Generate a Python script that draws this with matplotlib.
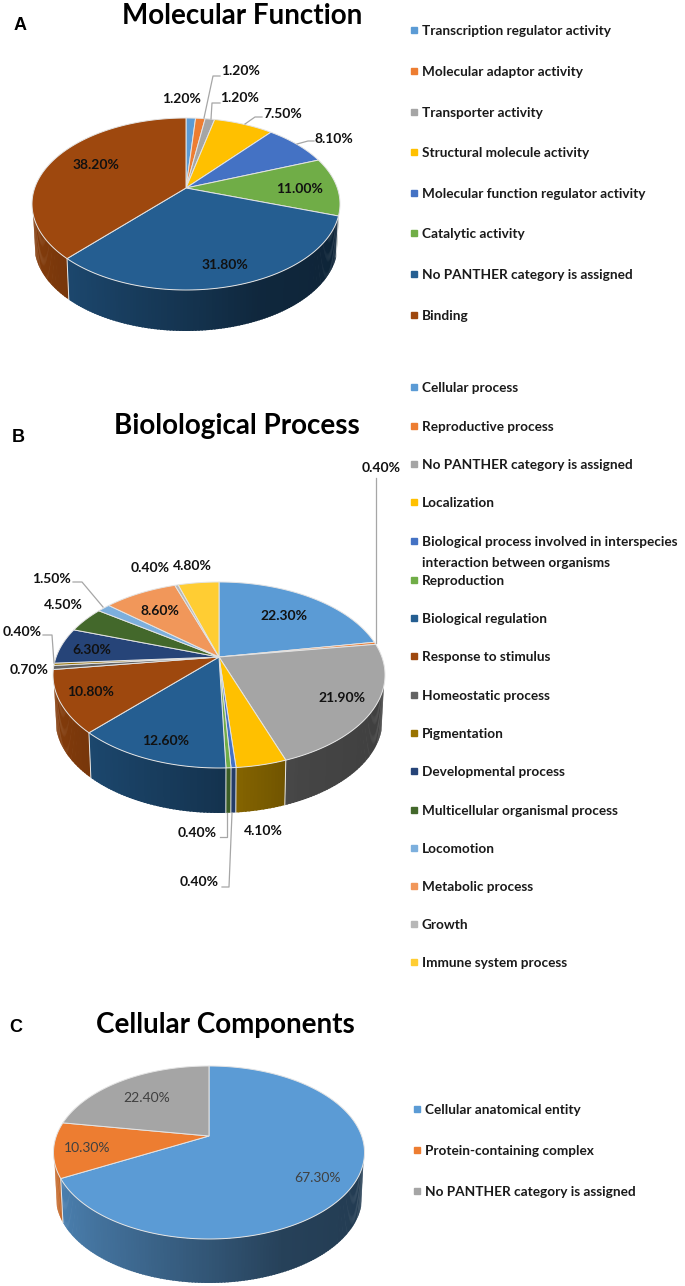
import numpy as np
import matplotlib
matplotlib.use("Agg")
import matplotlib.pyplot as plt
from matplotlib.colors import to_rgb

plt.rcParams['font.family'] = ['Lato', 'DejaVu Sans']

# panel A
mf_names = ["Transcription regulator activity", "Molecular adaptor activity", "Transporter activity",
            "Structural molecule activity", "Molecular function regulator activity", "Catalytic activity",
            "No PANTHER category is assigned", "Binding"]
mf_values = [1.2, 1.2, 1.2, 7.5, 8.1, 11.0, 31.8, 38.2]
mf_colors = ["#5b9bd5", "#ed7d31", "#a5a5a5", "#ffc000", "#4472c4", "#70ad47", "#255e91", "#9e480e"]

# panel B
bp_names = ["Cellular process", "Reproductive process", "No PANTHER category is assigned", "Localization",
            "Biological process involved in interspecies\ninteraction between organisms", "Reproduction",
            "Biological regulation", "Response to stimulus", "Homeostatic process", "Pigmentation",
            "Developmental process", "Multicellular organismal process", "Locomotion", "Metabolic process",
            "Growth", "Immune system process"]
bp_values = [22.3, 0.4, 21.9, 4.1, 0.4, 0.4, 12.6, 10.8, 0.7, 0.4, 6.3, 4.5, 1.5, 8.6, 0.4, 4.8]
bp_colors = ["#5b9bd5", "#ed7d31", "#a5a5a5", "#ffc000", "#4472c4", "#70ad47", "#255e91", "#9e480e",
             "#636363", "#997300", "#264478", "#43682b", "#7cafdd", "#f1975a", "#b7b7b7", "#ffcd33"]

# panel C
cc_names = ["Cellular anatomical entity", "Protein-containing complex", "No PANTHER category is assigned"]
cc_values = [67.3, 10.3, 22.4]
cc_colors = ["#5b9bd5", "#ed7d31", "#a5a5a5"]

# legend rows, pixel y
mf_legend_y = [30, 71, 112, 152, 193, 233, 274, 315]
bp_legend_y = [387, 426, 464, 502, 541, 580, 618, 656, 695, 733, 771, 810, 848, 886, 924, 962]
cc_legend_y = [1109, 1150, 1191]

# label positions (same order as the values)
mf_label_xy = [(182, 99), (241, 71), (240, 98), (283, 114), (334, 139), (300, 189), (225, 265), (96, 165)]
bp_label_xy = [(284, 616), (381, 468), (342, 698), (263, 831), (197, 833), (199, 882), (166, 741), (91, 692),
               (29, 670), (22, 632), (92, 650), (63, 605), (51, 579), (160, 611), (150, 568), (192, 566)]
cc_label_xy = [(318, 1178), (87, 1148), (147, 1098)]

mf_leaders = [[(204, 118), (213, 76), (220, 76)], [(211, 119), (212, 103), (220, 103)],
              [(245, 124), (255, 117), (262, 117)], [(297, 144), (308, 141), (314, 141)]]
bp_leaders = [[(375.7, 478), (375.7, 643)], [(220, 837), (227, 837), (227, 813)],
              [(222, 887), (229, 887), (232, 813)], [(43, 635), (52, 635), (54, 663)],
              [(73, 582), (82, 582), (103, 607)]]


def project(t, cx, cy, a, b, k, scale=1.0, drop=0.0):
    # t is clockwise from the top, simple perspective on the disc
    x = np.sin(t)
    y = np.cos(t)
    d = 1 + k * y
    return cx + scale * a * x / d, cy - b * y / d + drop


def wall_shade(x):
    return np.interp(x, [-1, 0, 0.4, 1], [0.85, 0.55, 0.42, 0.38])


def draw_pie(ax, values, colors, cx, cy, rx, top, bottom, depth):
    ratio = bottom / top
    k = (ratio - 1) / (ratio + 1)
    b = top * (1 + k)
    a = rx * np.sqrt(1 - k * k)
    total = sum(values)
    edges = np.concatenate([[0], np.cumsum(values)]) / total * 2 * np.pi

    # side wall first, small strips so it can shade left to right.
    # only the front part shows, strips overlap a little to hide the seams
    front_start = np.arccos(-0.3)
    front_end = 2 * np.pi - front_start
    overlap = np.radians(0.5)
    for i, c in enumerate(colors):
        lo = max(edges[i], front_start)
        hi = min(edges[i + 1], front_end)
        if hi <= lo:
            continue
        n = max(2, int((hi - lo) / np.radians(1.0)) + 1)
        ts = np.linspace(lo, hi, n)
        for t0, t1 in zip(ts[:-1], ts[1:]):
            t_end = min(t1 + overlap, hi)
            x0, y0 = project(t0, cx, cy, a, b, k)
            x1, y1 = project(t_end, cx, cy, a, b, k)
            x2, y2 = project(t_end, cx, cy, a, b, k, 0.985, depth)
            x3, y3 = project(t0, cx, cy, a, b, k, 0.985, depth)
            shade = wall_shade(np.sin((t0 + t1) / 2))
            col = tuple(v * shade for v in to_rgb(c))
            ax.fill([x0, x1, x2, x3], [y0, y1, y2, y3], color=col, lw=0, zorder=2)

    # light seams where the slices meet on the front wall
    for e in edges[:-1]:
        if front_start < e < front_end:
            x0, y0 = project(e, cx, cy, a, b, k)
            x1, y1 = project(e, cx, cy, a, b, k, 0.985, depth)
            ax.plot([x0, x1], [y0, y1], color="#e6e6e6", lw=0.7, zorder=3)

    for i, c in enumerate(colors):
        n = max(3, int((edges[i + 1] - edges[i]) / np.radians(1)) + 2)
        ts = np.linspace(edges[i], edges[i + 1], n)
        xs, ys = project(ts, cx, cy, a, b, k)
        ax.fill(np.r_[cx, xs], np.r_[cy, ys], facecolor=c, edgecolor="#e4e4e4", lw=0.7, zorder=4)


def draw_labels(ax, values, label_xy, color, weight, size):
    for v, (x, y) in zip(values, label_xy):
        ax.text(x, y, "%.2f%%" % v, ha="center", va="center", color=color, fontsize=size,
                fontweight=weight, zorder=6)


def draw_leaders(ax, leaders):
    for line in leaders:
        ax.plot([p[0] for p in line], [p[1] for p in line], color="#a6a6a6", lw=0.9, zorder=5)


def draw_legend(ax, names, colors, rows, mx, tx):
    for name, c, y in zip(names, colors, rows):
        ax.plot([mx], [y], marker="s", ms=3.8, color=c, ls="none", zorder=5)
        # the two line entry hangs below its marker
        text_y = y + 11 if "\n" in name else y
        ax.text(tx, text_y + 0.7, name, ha="left", va="center", fontsize=9.8, fontweight="bold",
                color="#1a1a1a", linespacing=1.88)


fig = plt.figure(figsize=(6.85, 12.86), dpi=100)
ax = fig.add_axes([0, 0, 1, 1])
ax.set_xlim(0, 685)
ax.set_ylim(1286, 0)
ax.axis("off")

draw_pie(ax, mf_values, mf_colors, 186, 188, 154, 70, 102, 41)
draw_pie(ax, bp_values, bp_colors, 219, 657, 166, 75, 111, 45)
draw_pie(ax, cc_values, cc_colors, 209, 1136, 155.5, 70, 103, 44)

draw_leaders(ax, mf_leaders)
draw_leaders(ax, bp_leaders)

draw_labels(ax, mf_values, mf_label_xy, "#111111", "bold", 10)
draw_labels(ax, bp_values, bp_label_xy, "#111111", "bold", 10)
draw_labels(ax, cc_values, cc_label_xy, "#404040", "normal", 10)

draw_legend(ax, mf_names, mf_colors, mf_legend_y, 414, 422)
draw_legend(ax, bp_names, bp_colors, bp_legend_y, 414, 422)
draw_legend(ax, cc_names, cc_colors, cc_legend_y, 417, 425)

for title, x, y in [("Molecular Function", 242, 16), ("Biolological Process", 237, 426), ("Cellular Components", 225, 1025)]:
    ax.text(x, y, title, ha="center", va="center", fontsize=20, fontweight="bold", color="black")
for letter, x, y in [("A", 20, 26), ("B", 18, 437), ("C", 16, 1027)]:
    ax.text(x, y, letter, ha="center", va="center", fontsize=13, fontweight="bold", family="Liberation Sans")

fig.savefig("out.png", dpi=100)
